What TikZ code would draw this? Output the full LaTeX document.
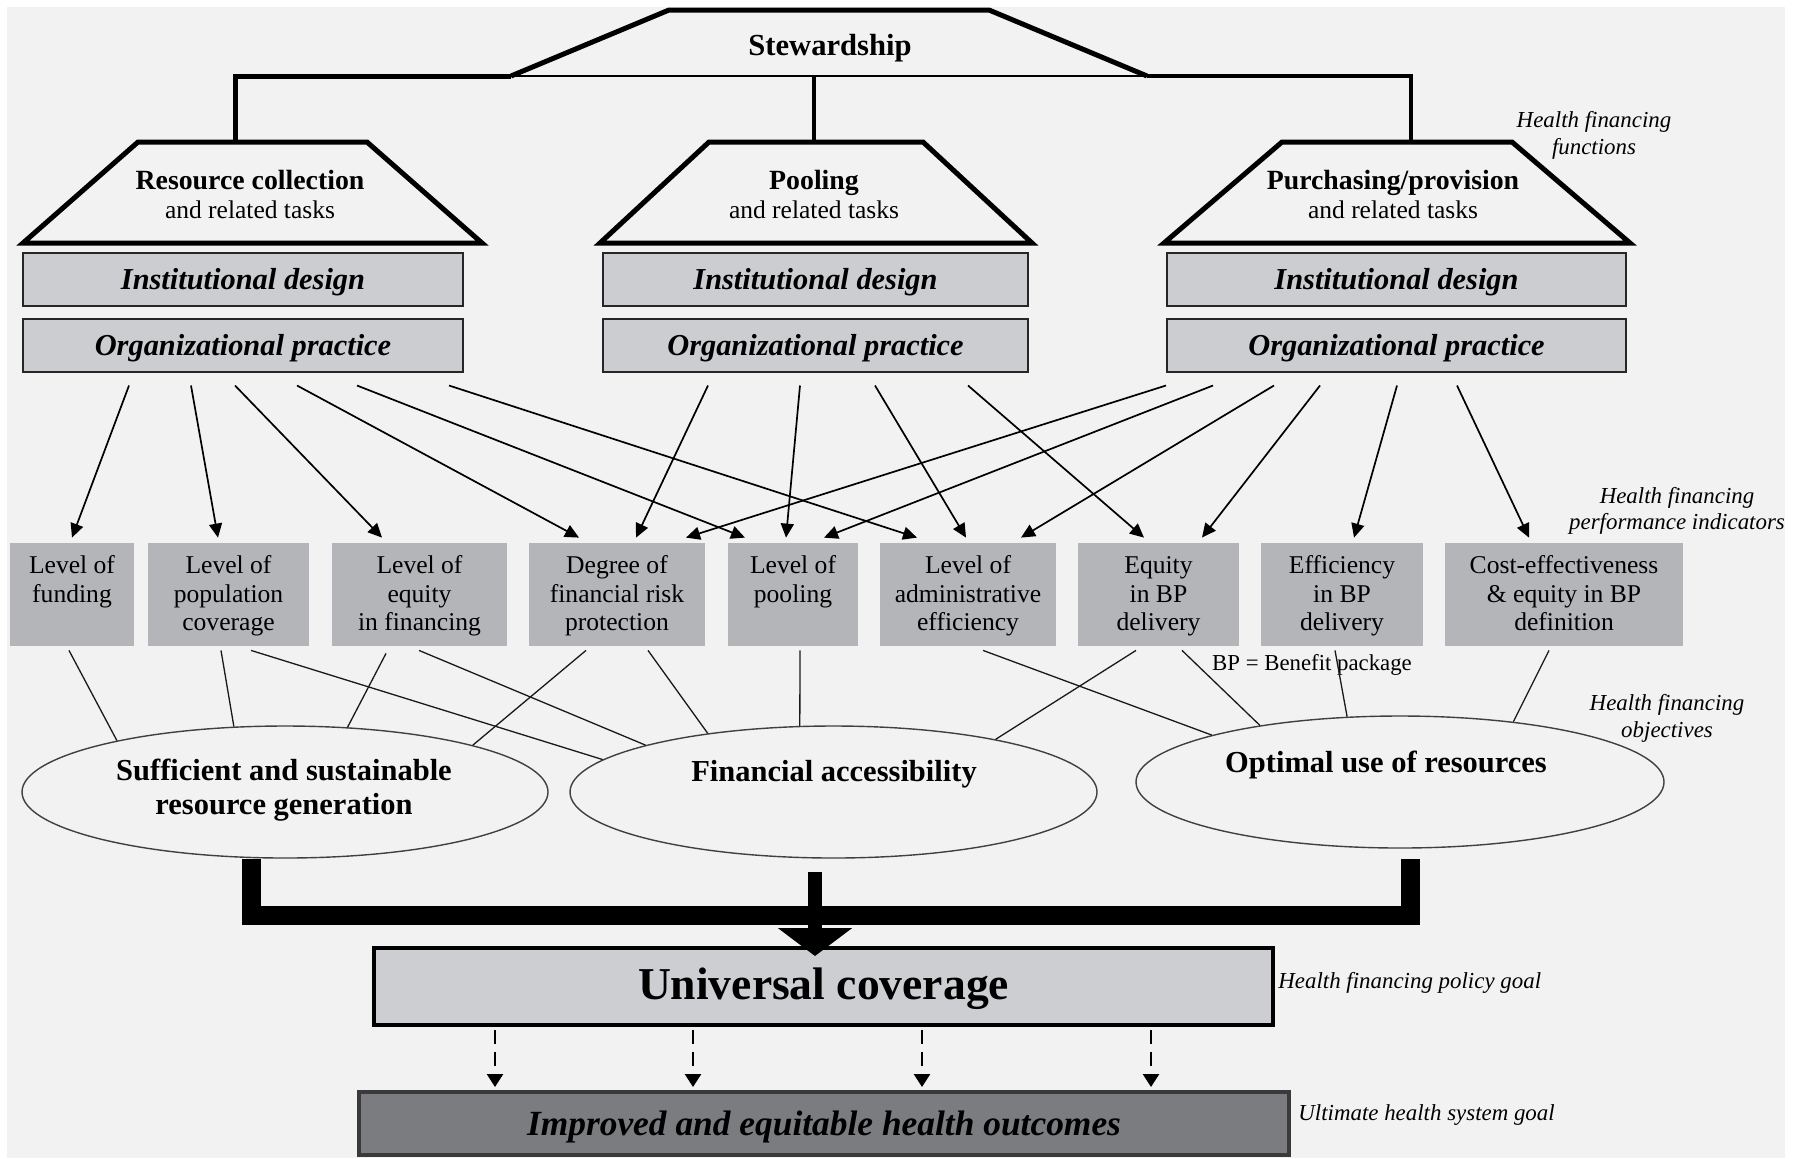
\documentclass[tikz,border=0pt]{standalone}
\usepackage{fontspec}
\setmainfont{Liberation Serif}
\usetikzlibrary{arrows.meta,calc,shapes.geometric}
\definecolor{bgc}{HTML}{F2F2F2}
\definecolor{layerfill}{HTML}{CCCDD1}
\definecolor{indfill}{HTML}{B4B5B8}
\definecolor{goalfill}{HTML}{CDCED2}
\definecolor{outfill}{HTML}{7B7C80}
\definecolor{outedge}{HTML}{3A3A3C}
% struts that fix the first and last line of the indicator boxes
\newcommand\hiTop{\rule{0pt}{11pt}}
\newcommand\loBot{\rule[-3.2pt]{0pt}{3.2pt}}
\begin{document}
\begin{tikzpicture}[x=0.5pt,y=-0.5pt,
  heavy/.style={line width=2.5pt,line join=miter},
  fntext/.style={align=center,font=\fontsize{12.75}{14.5}\selectfont},
  layerbox/.style={draw=black!85,line width=1pt,fill=layerfill,minimum height=26.5pt,inner sep=0pt,text height=13.5pt,text depth=3.3pt,font=\fontsize{15.2}{17}\selectfont\bfseries\itshape},
  indbox/.style={fill=indfill,minimum height=51.5pt,inner sep=0pt,align=center,font=\fontsize{12.8}{14.3}\selectfont},
  objell/.style={ellipse,draw=black!75,line width=0.7pt,minimum width=263.5pt,minimum height=66pt,inner sep=0pt},
  objtext/.style={align=center,font=\fontsize{15.25}{17}\selectfont\bfseries},
  sidenote/.style={align=center,font=\fontsize{11.45}{13.2}\selectfont\itshape},
  thinlink/.style={line width=0.65pt,draw=black!90},
  pointer/.style={line width=0.85pt,-{Triangle[length=7pt,width=6.5pt]}},
  dasharrow/.style={line width=1.3pt,dash pattern=on 7pt off 4pt,-{Triangle[length=6.5pt,width=8pt]}},
]
\useasboundingbox (0,0) rectangle (1797,1158);
\fill[bgc] (7,7) rectangle (1785,1158);

% ---------- stewardship ----------
\node[font=\fontsize{15.3}{17}\selectfont\bfseries] (stew) at (830,48.5) {Stewardship};
\coordinate (stewBL) at (511,76);
\coordinate (stewBR) at (1147,76);
\coordinate (stewMid) at (814,76);
\draw[heavy] (stewBL) -- (669,10) -- (989,10) -- (stewBR);

% ---------- health financing functions ----------
\draw[heavy] (23,243) -- (138,142) -- (367,142) -- (482,243) -- cycle;
\draw[heavy] (600,243) -- (709,142) -- (923,142) -- (1032,243) -- cycle;
\draw[heavy] (1164,243) -- (1282,142) -- (1512,142) -- (1630,243) -- cycle;
\coordinate (rcTop) at (235,142);
\coordinate (poTop) at (814,142);
\coordinate (puTop) at (1411,142);

\draw[heavy] (rcTop) |- (stewBL);
\draw[line width=2pt,line join=miter] (puTop) |- (stewBR);
\draw[line width=1.4pt] (stewBL) -- (stewBR);
\draw[line width=2pt] (stewMid) -- (poTop);

\node[fntext] (rc) at (250,194.5) {{\fontsize{13.9}{14.5}\selectfont\bfseries Resource collection}\\and related tasks};
\node[fntext] (po) at (814,194.5) {{\fontsize{13.9}{14.5}\selectfont\bfseries Pooling}\\and related tasks};
\node[fntext] (pu) at (1393,194.5) {{\fontsize{13.9}{14.5}\selectfont\bfseries Purchasing/provision}\\and related tasks};

\node[layerbox,minimum width=220pt] (id1) at (243,279.5) {Institutional design};
\node[layerbox,minimum width=212.5pt] (id2) at (815.5,279.5) {Institutional design};
\node[layerbox,minimum width=229.5pt] (id3) at (1396.5,279.5) {Institutional design};
\node[layerbox,minimum width=220pt] (o1) at (243,345) {Organizational practice};
\node[layerbox,minimum width=212.5pt] (o2) at (815.5,345) {Organizational practice};
\node[layerbox,minimum width=229.5pt] (o3) at (1396.5,345) {Organizational practice};

\node[sidenote] (nfun) at (1594,135.5) {Health financing\\functions};

% ---------- performance indicators ----------
\node[indbox,minimum width=62pt] (b1) at (72,594.5) {\hiTop Level of\\funding\\\loBot};
\node[indbox,minimum width=80.5pt] (b2) at (228.5,594.5) {\hiTop Level of\\population\\coverage\loBot};
\node[indbox,minimum width=87.5pt] (b3) at (419.5,594.5) {\hiTop Level of\\equity\\in financing\loBot};
\node[indbox,minimum width=88pt] (b4) at (617,594.5) {\hiTop Degree of\\financial risk\\protection\loBot};
\node[indbox,minimum width=65pt] (b5) at (793,594.5) {\hiTop Level of\\pooling\\\loBot};
\node[indbox,minimum width=88pt] (b6) at (968,594.5) {\hiTop Level of\\administrative\\efficiency\loBot};
\node[indbox,minimum width=80.5pt] (b7) at (1158.5,594.5) {\hiTop Equity\\in BP\\delivery\loBot};
\node[indbox,minimum width=81pt] (b8) at (1342,594.5) {\hiTop Efficiency\\in BP\\delivery\loBot};
\node[indbox,minimum width=119pt] (b9) at (1564,594.5) {\hiTop Cost-effectiveness\\\& equity in BP\\definition\loBot};

\node[sidenote] (nperf) at (1677,511) {Health financing\\performance indicators};
\node[font=\fontsize{11.4}{13}\selectfont] (bpnote) at (1312,665) {BP = Benefit package};

% arrows from resource collection practice
\draw[pointer] ($(o1.south west)+(107,13)$) -- ($(b1.north)+(0,-5)$);
\draw[pointer] ($(o1.south west)+(169,13)$) -- ($(b2.north)+(-10.5,-5)$);
\draw[pointer] ($(o1.south west)+(213,13)$) -- ($(b3.north)+(-37.5,-5)$);
\draw[pointer] ($(o1.south west)+(275,13)$) -- ($(b4.north)+(-38,-5)$);
\draw[pointer] ($(o1.south west)+(335,13)$) -- ($(b5.north)+(-48,-5)$);
\draw[pointer] ($(o1.south west)+(427,13)$) -- ($(b6.north)+(-51,-5)$);
% arrows from pooling practice
\draw[pointer] ($(o2.south west)+(106,13)$) -- ($(b4.north)+(19,-5)$);
\draw[pointer] ($(o2.south west)+(198,13)$) -- ($(b5.north)+(-7,-5)$);
\draw[pointer] ($(o2.south west)+(273,13)$) -- ($(b6.north)+(-2,-5)$);
\draw[pointer] ($(o2.south west)+(366,13)$) -- ($(b7.north)+(-14.5,-5)$);
% arrows from purchasing practice
\draw[pointer] ($(o3.south west)+(0,13)$) -- ($(b4.north)+(69,-5)$);
\draw[pointer] ($(o3.south west)+(47,13)$) -- ($(b5.north)+(31,-5)$);
\draw[pointer] ($(o3.south west)+(108,13)$) -- ($(b6.north)+(53,-5)$);
\draw[pointer] ($(o3.south west)+(154,13)$) -- ($(b7.north)+(43.5,-5)$);
\draw[pointer] ($(o3.south west)+(231,13)$) -- ($(b8.north)+(12,-5)$);
\draw[pointer] ($(o3.south west)+(291,13)$) -- ($(b9.north)+(-35,-5)$);

% ---------- objectives ----------
\node[objell,minimum width=263pt] (e1) at (285,792) {};
\node[objell] (e2) at (833.5,792) {};
\node[objell,minimum width=264pt] (e3) at (1400,782) {};
\node[objtext] (t1) at (284,790.5) {Sufficient and sustainable\\resource generation};
\node[objtext] (t2) at (834,774.5) {Financial accessibility};
\node[objtext] (t3) at (1386,765) {Optimal use of resources};
\node[sidenote] (nobj) at (1667,718.5) {Health financing\\objectives};

\draw[thinlink] ($(b1.south)+(-3,4)$) -- (e1.163);
\draw[thinlink] ($(b2.south)+(-7.5,4)$) -- (e1.128);
\draw[thinlink] ($(b2.south)+(22.5,4)$) -- (e2.172);
\draw[thinlink] ($(b3.south)+(-33.5,7)$) -- (e1.46);
\draw[thinlink] ($(b3.south)+(-0.5,4)$) -- (e2.166);
\draw[thinlink] ($(b4.south)+(-31,4)$) -- (e1.14.5);
\draw[thinlink] ($(b4.south)+(31,4)$) -- (e2.155);
\draw[thinlink] ($(b5.south)+(7,4)$) -- (e2.117);
\draw[thinlink] ($(b6.south)+(15,4)$) -- (e3.166.5);
\draw[thinlink] ($(b7.south)+(-22.5,4)$) -- (e2.18);
\draw[thinlink] ($(b7.south)+(23.5,4)$) -- (e3.158);
\draw[thinlink] ($(b8.south)+(-7,4)$) -- (e3.129);
\draw[thinlink] ($(b9.south)+(-15,4)$) -- (e3.28);

% ---------- goals ----------
\node[draw=black,line width=2pt,fill=goalfill,minimum width=449.5pt,minimum height=38.5pt,inner sep=0pt,text height=17pt,text depth=3.7pt,font=\fontsize{22.8}{26}\selectfont\bfseries] (uc) at (823.5,986.5) {Universal coverage};
\node[draw=outedge,line width=2pt,fill=outfill,minimum width=465pt,minimum height=31.5pt,inner sep=0pt,text height=15.5pt,text depth=3.5pt,font=\fontsize{17.7}{20}\selectfont\bfseries\itshape] (io) at (824,1123.5) {Improved and equitable health outcomes};
\node[sidenote,anchor=west,inner sep=0pt] (npol) at (1278,983) {Health financing policy goal};
\node[sidenote,anchor=west,inner sep=0pt] (nult) at (1298,1115) {Ultimate health system goal};

\draw[line width=9.5pt,line join=miter] ($(e1.south)+(-34,0)$) |- ($(e3.south)+(10.5,67)$) -- ($(e3.south)+(10.5,10)$);
\draw[line width=7pt,-{Triangle[length=14pt,width=36.5pt]}] ($(e2.south)+(-18.5,13)$) -- ($(uc.north)+(-8.5,10)$);

\draw[dasharrow] ($(uc.south)+(-328.5,3)$) -- ($(io.north)+(-329,-3)$);
\draw[dasharrow] ($(uc.south)+(-130.5,3)$) -- ($(io.north)+(-131,-3)$);
\draw[dasharrow] ($(uc.south)+(98.5,3)$) -- ($(io.north)+(98,-3)$);
\draw[dasharrow] ($(uc.south)+(327.5,3)$) -- ($(io.north)+(327,-3)$);
\end{tikzpicture}
\end{document}
